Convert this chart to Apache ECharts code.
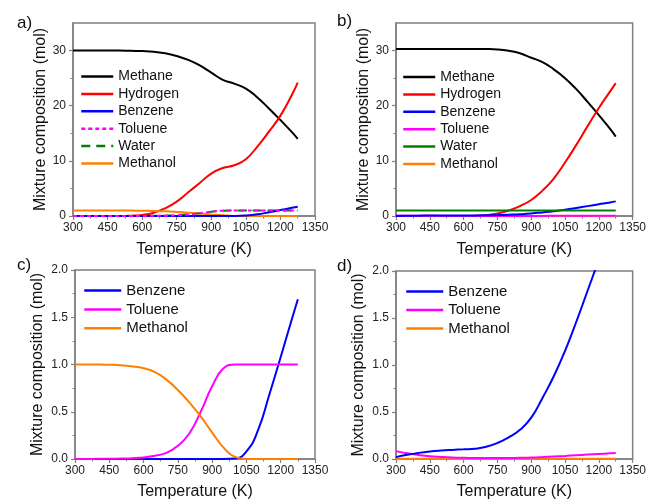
<!DOCTYPE html>
<html>
<head>
<meta charset="utf-8">
<script src="https://cdn.jsdelivr.net/npm/echarts@6/dist/echarts.min.js"></script>
<style>
html,body{margin:0;padding:0;background:#fff;}
#c{width:649px;height:501px;}
</style>
</head>
<body>
<div id="c"></div>
<script>
// Temperature (K)
const temps = [300,350,400,450,500,550,600,650,700,750,800,850,900,950,1000,1050,1100,1150,1200,1250,1275];

// Panel a (and c: zoom of a's minor species)
const methaneA  = [30,30,30,30,30,29.95,29.9,29.8,29.5,29.0,28.3,27.3,26.0,24.7,24.0,23.1,21.5,19.5,17.4,15.2,14.0];
const hydrogenA = [0,0,0,0,0,0.05,0.2,0.6,1.4,2.6,4.3,6.0,7.7,8.7,9.2,10.3,12.6,15.3,18.2,22.0,24.2];
const benzeneA  = [0,0,0,0,0,0,0,0,0,0,0,0,0,0,0.004,0.08,0.3,0.68,1.08,1.49,1.69];
const tolueneA  = [0,0,0.002,0.003,0.005,0.008,0.015,0.035,0.065,0.14,0.27,0.5,0.77,0.96,1.0,1.0,1.0,1.0,1.0,1.0,1.0];
const waterA    = [0,0,0.002,0.003,0.005,0.008,0.016,0.036,0.068,0.145,0.28,0.51,0.78,0.96,1.0,1.0,1.0,1.0,1.0,1.0,1.0];
const methanolA = [1,1,1,0.998,0.993,0.98,0.96,0.92,0.84,0.73,0.6,0.45,0.28,0.12,0.022,0,0,0,0,0,0];

// Panel b (and d: zoom of b's minor species)
const methaneB  = [30.3,30.3,30.3,30.3,30.3,30.3,30.3,30.3,30.28,30.2,29.95,29.5,28.7,27.9,26.6,25.0,23.0,20.7,18.3,15.8,14.4];
const hydrogenB = [0,0,0,0,0,0,0,0.03,0.15,0.45,1.0,1.8,2.9,4.6,6.8,9.7,12.9,16.3,19.6,22.6,24.1];
const benzeneB  = [0.02,0.045,0.065,0.08,0.09,0.097,0.103,0.11,0.13,0.17,0.23,0.31,0.44,0.65,0.88,1.15,1.46,1.79,2.12,2.45,2.65];
const tolueneB  = [0.084,0.06,0.043,0.03,0.022,0.016,0.013,0.011,0.01,0.01,0.011,0.013,0.016,0.021,0.027,0.033,0.04,0.047,0.054,0.06,0.063];
const waterB    = [1,1,1,1,1,1,1,1,1,1,1,1,1,1,1,1,1,1,1,1,1];
const methanolB = [0.003,0.003,0.003,0.003,0.003,0.003,0.003,0.003,0.003,0.003,0.003,0.003,0.003,0.003,0.003,0.003,0.003,0.003,0.003,0.003,0.003];

// Tick values for the 0–35 axes
const yMajorTop = [0,10,20,30];
const yMinorTop = [5,15,25];

const FONT = 'Liberation Sans, Arial, sans-serif';
const AX = '#808080';
const COL = {Methane:'#000000', Hydrogen:'#ff0000', Benzene:'#0000ff', Toluene:'#ff00ff', Water:'#008000', Methanol:'#ff8000'};

const grids = [
  {left:73, top:23, width:242, height:193},
  {left:396, top:23, width:241, height:193},
  {left:75, top:270, width:240, height:191},
  {left:396, top:271, width:241, height:191}
];

function pairs(ys){ return temps.map((t,i)=>[t, ys[i]]); }

function yTitle(gap){
  return {name:'Mixture composition (mol)', nameLocation:'middle', nameGap:gap, nameRotate:90,
    nameTextStyle:{fontSize:16, color:'#111', fontFamily:FONT}};
}

const baseY = {
  axisLine:{show:true, lineStyle:{color:AX, width:1.5}},
  splitLine:{show:false}, minorSplitLine:{show:false}
};

const legendCommon = {padding:0, orient:'vertical', itemStyle:{opacity:0}, lineStyle:{width:2.5}};

const option = {
  animation:false,
  backgroundColor:'#fff',
  textStyle:{fontFamily:FONT},
  title:[
    {text:'a)', left:12, top:10},
    {text:'b)', left:332, top:8},
    {text:'c)', left:12, top:252},
    {text:'d)', left:332, top:253}
  ].map(t=>Object.assign(t,{textStyle:{fontSize:17,fontWeight:'normal',color:'#111',fontFamily:FONT}})),
  grid: grids.map(g=>Object.assign({show:true, borderColor:AX, borderWidth:1.5, backgroundColor:'transparent'}, g)),
  xAxis: [0,1,2,3].map(i=>({
    type:'value', gridIndex:i, min:300, max:1350, interval:150,
    name:'Temperature (K)', nameLocation:'middle', nameGap: i<2?26:25,
    nameTextStyle:{fontSize:16, color:'#111', fontFamily:FONT},
    axisLine:{show:true, lineStyle:{color:AX, width:1.5}},
    axisTick:{show:true, inside:false, length:4, lineStyle:{color:AX, width:1.2}},
    minorTick:{show:true, splitNumber:2, length:2.5, lineStyle:{color:AX, width:1}},
    axisLabel:{fontSize:12, color:'#222', margin:6, fontFamily:FONT, formatter:v=>String(v)},
    splitLine:{show:false}, minorSplitLine:{show:false}
  })),
  yAxis: [
    // a major
    Object.assign({type:'value', gridIndex:0, min:0, max:35, position:'left',
     axisTick:{show:true, length:4, customValues:yMajorTop, lineStyle:{color:AX, width:1.2}},
     axisLabel:{fontSize:12, color:'#222', margin:7, customValues:yMajorTop, fontFamily:FONT}}, baseY, yTitle(23)),
    // a minor
    {type:'value', gridIndex:0, min:0, max:35, position:'left', offset:0,
     axisLine:{show:false}, axisLabel:{show:false}, splitLine:{show:false},
     axisTick:{show:true, length:2.5, customValues:yMinorTop, lineStyle:{color:AX, width:1}}},
    // b major
    Object.assign({type:'value', gridIndex:1, min:0, max:35, position:'left',
     axisTick:{show:true, length:4, customValues:yMajorTop, lineStyle:{color:AX, width:1.2}},
     axisLabel:{fontSize:12, color:'#222', margin:7, customValues:yMajorTop, fontFamily:FONT}}, baseY, yTitle(23)),
    // b minor
    {type:'value', gridIndex:1, min:0, max:35, position:'left', offset:0,
     axisLine:{show:false}, axisLabel:{show:false}, splitLine:{show:false},
     axisTick:{show:true, length:2.5, customValues:yMinorTop, lineStyle:{color:AX, width:1}}},
    // c
    Object.assign({type:'value', gridIndex:2, min:0, max:2, interval:0.5,
     axisTick:{show:true, length:4, lineStyle:{color:AX, width:1.2}},
     minorTick:{show:true, splitNumber:2, length:2.5, lineStyle:{color:AX, width:1}},
     axisLabel:{fontSize:12, color:'#222', margin:7, formatter:v=>v.toFixed(1), fontFamily:FONT}}, baseY, yTitle(29)),
    // d
    Object.assign({type:'value', gridIndex:3, min:0, max:2, interval:0.5,
     axisTick:{show:true, length:4, lineStyle:{color:AX, width:1.2}},
     minorTick:{show:true, splitNumber:2, length:2.5, lineStyle:{color:AX, width:1}},
     axisLabel:{fontSize:12, color:'#222', margin:7, formatter:v=>v.toFixed(1), fontFamily:FONT}}, baseY, yTitle(29))
  ],
  legend: [
    Object.assign({left:80, top:69.5, itemWidth:32, itemHeight:14, itemGap:3.4,
     data:['Methane','Hydrogen','Benzene','Toluene','Water','Methanol'],
     textStyle:{fontSize:14, color:'#111', fontFamily:FONT, lineHeight:14}}, legendCommon),
    Object.assign({left:402, top:70, itemWidth:32, itemHeight:14, itemGap:3.4,
     data:['Methane ','Hydrogen ','Benzene ','Toluene ','Water ','Methanol '],
     formatter:n=>n.trim(),
     textStyle:{fontSize:14, color:'#111', fontFamily:FONT, lineHeight:14}}, legendCommon),
    Object.assign({left:83, top:283, itemWidth:37, itemHeight:15, itemGap:3.9,
     data:['Benzene  ','Toluene  ','Methanol  '], formatter:n=>n.trim(),
     textStyle:{fontSize:15, color:'#111', fontFamily:FONT, lineHeight:15}}, legendCommon),
    Object.assign({left:405, top:284, itemWidth:37, itemHeight:15, itemGap:3.5,
     data:['Benzene   ','Toluene   ','Methanol   '], formatter:n=>n.trim(),
     textStyle:{fontSize:15, color:'#111', fontFamily:FONT, lineHeight:15}}, legendCommon)
  ],
  series: []
};

function addSeries(name, key, grid, yIdx, ys, type){
  option.series.push({
    name:name, type:'line', xAxisIndex:grid, yAxisIndex:yIdx,
    data:pairs(ys), showSymbol:false, symbol:'none', smooth:0.5, clip:true,
    lineStyle:{color:COL[key], width:2, type:type||'solid'},
    itemStyle:{color:COL[key]}
  });
}
// a
addSeries('Methane','Methane',0,0,methaneA);
addSeries('Hydrogen','Hydrogen',0,0,hydrogenA);
addSeries('Methanol','Methanol',0,0,methanolA);
addSeries('Water','Water',0,0,waterA,[9,6]);
addSeries('Benzene','Benzene',0,0,benzeneA);
addSeries('Toluene','Toluene',0,0,tolueneA,[4,3]);
// b
addSeries('Methane ','Methane',1,2,methaneB);
addSeries('Hydrogen ','Hydrogen',1,2,hydrogenB);
addSeries('Methanol ','Methanol',1,2,methanolB);
addSeries('Toluene ','Toluene',1,2,tolueneB);
addSeries('Benzene ','Benzene',1,2,benzeneB);
addSeries('Water ','Water',1,2,waterB);
// c
addSeries('Benzene  ','Benzene',2,4,benzeneA);
addSeries('Toluene  ','Toluene',2,4,tolueneA);
addSeries('Methanol  ','Methanol',2,4,methanolA);
// d
addSeries('Methanol   ','Methanol',3,5,methanolB);
addSeries('Toluene   ','Toluene',3,5,tolueneB);
addSeries('Benzene   ','Benzene',3,5,benzeneB);

const chart = echarts.init(document.getElementById('c'), null, {renderer:'canvas'});
chart.setOption(option);
</script>
</body>
</html>
